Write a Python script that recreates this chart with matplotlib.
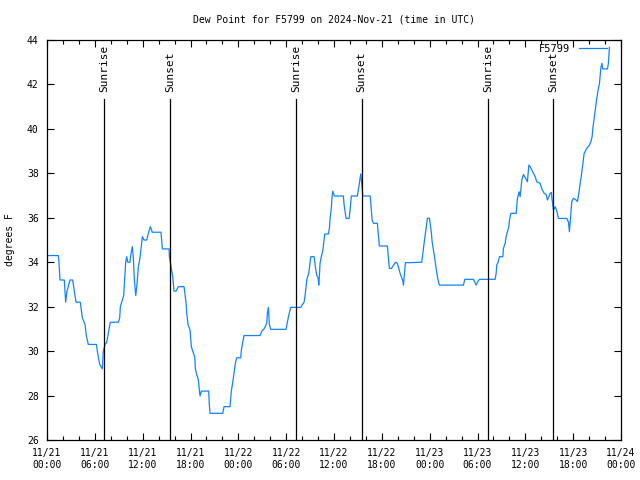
import matplotlib
matplotlib.use("Agg")
import matplotlib.pyplot as plt
import matplotlib.dates as mdates
import pandas as pd

# hours after 2024-11-21 00:00 UTC
hours = [0.08, 1.42, 1.5, 1.63, 2.17, 2.34, 2.51, 2.89, 3.22, 3.43, 3.64, 4.18, 4.43, 4.77, 4.93,
         5.18, 6.19, 6.36, 6.61, 6.94, 7.06, 7.28, 7.49, 7.69, 7.94, 8.95, 9.12, 9.2, 9.45, 9.62,
         9.7, 9.79, 9.87, 10.0, 10.13, 10.41, 10.54, 10.71, 10.83, 10.96, 11.13, 11.29, 11.46,
         11.67, 11.79, 11.96, 12.17, 12.51, 12.71, 12.96, 13.21, 14.3, 14.47, 15.31,
         15.35, 15.6, 15.77, 15.93, 16.19, 16.48, 17.19, 17.44, 17.53, 17.69, 17.94, 18.11, 18.28,
         18.53, 18.61, 18.78, 18.99, 19.11, 19.2, 19.36, 20.28, 20.36, 20.45, 22.04, 22.21, 22.96,
         23.12, 23.3, 23.46, 23.63, 23.8, 24.3, 24.38, 24.55, 24.72, 26.73, 26.94, 27.23, 27.56,
         27.64, 27.77, 27.89, 28.07, 29.99, 30.15, 30.32, 30.49, 30.55,
         31.83, 32.0, 32.25, 32.37, 32.5, 32.58, 32.83, 33.0, 33.09, 33.5, 33.66, 33.84, 34.0,
         34.09, 34.17, 34.25, 34.42, 34.59, 34.76, 34.84, 35.3, 35.42, 35.51, 35.68, 35.76, 35.85,
         36.05, 37.18, 37.26, 37.43, 37.52, 37.89, 38.02, 38.18, 38.93, 39.02, 39.15, 39.27, 39.36,
         39.44, 39.52, 39.61, 40.53, 40.65, 40.78, 40.94, 41.44, 41.62, 41.69, 42.7, 42.87, 42.95,
         43.2, 43.45, 43.7, 43.95, 44.13, 44.29, 44.45, 44.63, 44.71, 44.79, 44.96, 45.55,
         47.01, 47.14, 47.3, 47.47, 47.64, 47.72, 47.97, 48.06, 48.22, 48.31, 48.47, 48.64, 48.81,
         48.97, 49.15, 49.22, 52.23, 52.41, 53.49, 53.66, 53.83, 53.99, 54.24, 56.21, 56.34, 56.42,
         56.59, 56.75, 57.18, 57.25, 57.47, 57.59, 57.76, 57.93, 58.0,
         58.18, 58.85, 59.01, 59.22, 59.35, 59.56, 59.76, 60.01, 60.26, 60.44, 60.6, 60.81, 61.02,
         61.23, 61.44, 61.86, 62.07, 62.36, 62.61, 62.77, 62.95, 63.11, 63.27, 63.36, 63.53, 63.74,
         63.95, 64.15, 65.21, 65.41, 65.53, 65.71, 65.83, 66.04, 66.37, 66.54, 66.71, 66.88, 67.04,
         67.22, 67.38, 67.72, 68.04, 68.22, 68.38, 68.47, 68.63, 68.8, 68.97, 69.13, 69.3, 69.47,
         69.6, 69.72, 70.3, 70.42, 70.55]

dewpt = [34.3, 34.3, 34.0, 33.2, 33.2, 32.2, 32.7, 33.2, 33.2, 32.7, 32.2, 32.2, 31.5, 31.2, 30.7,
         30.3, 30.3, 29.9, 29.4, 29.2, 30.0, 30.3, 30.4, 30.8, 31.3, 31.3, 31.5, 32.0, 32.3, 32.5,
         33.0, 33.5, 34.0, 34.25, 34.0, 34.0, 34.4, 34.7, 34.2, 33.2, 32.5, 33.0, 33.8,
         34.2, 34.6, 35.15, 35.0, 35.0, 35.3, 35.6, 35.35, 35.35, 34.6, 34.6,
         34.25, 33.7, 33.35, 32.7, 32.7, 32.9, 32.9, 32.2, 31.7, 31.2, 30.95, 30.2, 30.0,
         29.75, 29.2, 28.95, 28.7, 28.25, 27.98, 28.2, 28.2, 27.6, 27.2, 27.2, 27.5, 27.5,
         28.2, 28.6, 29.0, 29.45, 29.7, 29.7, 30.05, 30.4, 30.7, 30.7, 30.9, 31.0, 31.25,
         31.7, 31.97, 31.2, 30.98, 30.98, 31.3, 31.6, 31.85, 31.97,
         31.97, 32.08, 32.2, 32.5, 32.9, 33.2, 33.5, 34.0, 34.25, 34.25, 33.8, 33.4, 33.3,
         32.97, 33.4, 33.95, 34.28, 34.5, 35.0, 35.27, 35.27, 35.52, 35.97, 36.5, 36.98, 37.2,
         36.98, 36.98, 36.6, 36.17, 35.97, 35.97, 36.35, 36.98, 36.98, 37.17, 37.47, 37.78, 37.97,
         37.7, 37.4, 36.98, 36.98, 36.5, 35.9, 35.75, 35.75, 35.0, 34.73, 34.73, 34.0, 33.72,
         33.72, 33.85, 34.0, 33.95, 33.72, 33.5, 33.35, 33.17, 32.97, 33.3, 33.98, 33.98,
         34.0, 34.4, 34.85, 35.3, 35.75, 35.98, 35.98, 35.75, 35.3, 34.92, 34.55, 34.17, 33.72,
         33.35, 33.05, 32.97, 32.97, 33.23, 33.23, 33.1, 32.97, 33.1, 33.23, 33.23, 33.5, 33.88,
         34.0, 34.25, 34.25, 34.62, 34.85, 35.15, 35.37, 35.6, 35.87,
         36.2, 36.2, 36.88, 37.17, 36.95, 37.7, 37.95, 37.8, 37.62, 38.37, 38.3, 38.15, 38.0,
         37.85, 37.62, 37.55, 37.3, 37.1, 37.05, 36.8, 36.95, 37.1, 37.14, 36.8, 36.35, 36.5,
         36.3, 35.97, 35.97, 35.8, 35.37, 36.2, 36.73, 36.88, 36.8, 36.73, 37.1, 37.55, 37.93,
         38.45, 38.9, 39.13, 39.27, 39.42, 39.65, 40.03, 40.48, 40.93, 41.38, 41.75, 42.05, 42.73,
         42.95, 42.7, 42.7, 42.95, 43.67]

# sunrise / sunset, hours after 11/21 00:00
sun_hours = [7.18, 15.45, 31.25, 39.45, 55.3, 63.45]
sun_names = ['Sunrise', 'Sunset', 'Sunrise', 'Sunset', 'Sunrise', 'Sunset']

start = pd.Timestamp('2024-11-21 00:00')
times = [start + pd.Timedelta(hours=h) for h in hours]
sun_times = [start + pd.Timedelta(hours=h) for h in sun_hours]

plt.rcParams['font.family'] = 'DejaVu Sans Mono'
plt.rcParams['font.size'] = 7

fig = plt.figure(figsize=(6.4, 4.8), dpi=100)
ax = fig.add_axes([47/640, 40/480, 574/640, 400/480])

ax.plot(times, dewpt, color='#1283ff', lw=0.9, label='F5799')

for t, name in zip(sun_times, sun_names):
    ax.axvline(t, ymax=0.853, color='black', lw=0.9)
    ax.text(t, 0.87, name, transform=ax.get_xaxis_transform(), rotation=90,
            ha='center', va='bottom', fontsize=8)

ax.set_xlim(start, start + pd.Timedelta(hours=72))
ax.set_ylim(26, 44)
ax.set_yticks(range(26, 45, 2))
ax.xaxis.set_major_locator(mdates.HourLocator(byhour=[0, 6, 12, 18]))
ax.xaxis.set_minor_locator(mdates.HourLocator(byhour=range(0, 24, 2)))
ax.xaxis.set_major_formatter(mdates.DateFormatter('%m/%d\n%H:%M'))

ax.tick_params(axis='both', which='both', direction='in', top=True, right=True, width=0.8)
ax.tick_params(axis='both', which='major', length=5, pad=6)
ax.tick_params(axis='x', which='minor', length=3)
for s in ax.spines.values():
    s.set_linewidth(0.9)

fig.text(334/640, 1 - 19/480, 'Dew Point for F5799 on 2024-Nov-21 (time in UTC)',
         ha='center', va='center', fontsize=7)
fig.text(10/640, 0.5, 'degrees F', rotation=90, ha='center', va='center', fontsize=7)

ax.legend(loc='upper right', bbox_to_anchor=(1 - 12/574, 1 - 2/400), frameon=False,
          markerfirst=False, handlelength=2.7, borderaxespad=0, borderpad=0.2,
          handletextpad=0.8, fontsize=7.5)

fig.savefig('out.png', dpi=100)
